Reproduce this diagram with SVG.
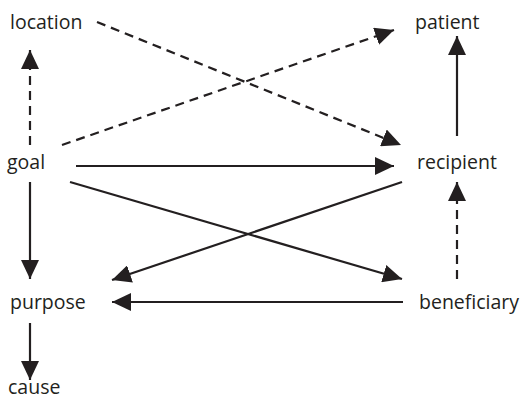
<svg xmlns="http://www.w3.org/2000/svg" width="522" height="403" viewBox="0 0 522 403">
  <style>
    .lbl { font-family: "Open Sans", "Noto Sans", sans-serif; font-size: 19.5px; fill: #231f20; }
    .edge { stroke: #231f20; stroke-width: 2.2; fill: none; marker-end: url(#head); }
    .dash { stroke-dasharray: 9 6; }
  </style>
  <defs>
    <marker id="head" markerUnits="userSpaceOnUse" markerWidth="19" markerHeight="18" refX="19" refY="9" orient="auto" viewBox="0 0 19 18">
      <path d="M0,0 L19,9 L0,18 z" fill="#231f20"/>
    </marker>
  </defs>
  <rect width="522" height="403" fill="#ffffff"/>

  <g id="connectors">
    <line class="edge dash" x1="97" y1="22" x2="401" y2="145"/>
    <line class="edge dash" x1="62" y1="145" x2="394" y2="30"/>
    <line class="edge dash" x1="30" y1="145" x2="30" y2="50"/>
    <line class="edge" x1="457" y1="136" x2="457" y2="36"/>
    <line class="edge" x1="76" y1="166" x2="394" y2="166"/>
    <line class="edge" x1="70" y1="182" x2="402" y2="279"/>
    <line class="edge" x1="402" y1="182" x2="112" y2="280"/>
    <line class="edge dash" x1="457" y1="279" x2="457" y2="182"/>
    <line class="edge" x1="403" y1="302" x2="112" y2="302"/>
    <line class="edge" x1="30" y1="182" x2="30" y2="279"/>
    <line class="edge" x1="30" y1="323" x2="30" y2="380"/>
  </g>

  <g id="location"><text class="lbl" x="10" y="29">location</text></g>
  <g id="patient"><text class="lbl" x="415" y="29">patient</text></g>
  <g id="goal"><text class="lbl" x="7" y="169">goal</text></g>
  <g id="recipient"><text class="lbl" x="417" y="169">recipient</text></g>
  <g id="purpose"><text class="lbl" x="10" y="309">purpose</text></g>
  <g id="beneficiary"><text class="lbl" x="419" y="309">beneficiary</text></g>
  <g id="cause"><text class="lbl" x="8" y="394">cause</text></g>
</svg>
